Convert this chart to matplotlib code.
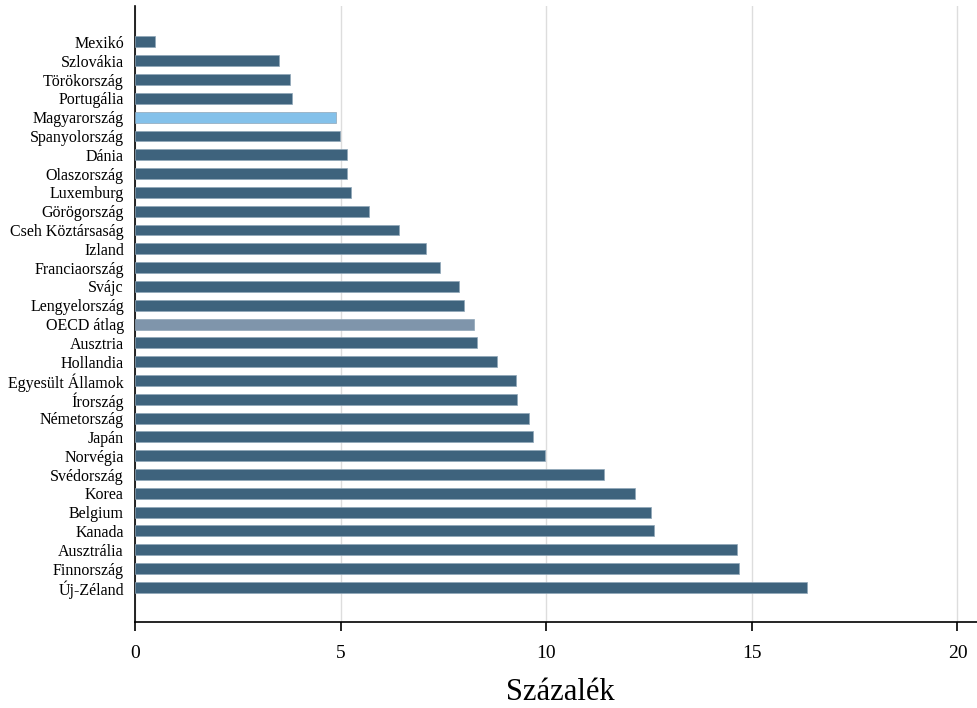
import matplotlib.pyplot as plt

plt.rcParams['font.family'] = ['Liberation Serif', 'DejaVu Serif']

countries = ['Mexikó', 'Szlovákia', 'Törökország', 'Portugália', 'Magyarország',
             'Spanyolország', 'Dánia', 'Olaszország', 'Luxemburg', 'Görögország',
             'Cseh Köztársaság', 'Izland', 'Franciaország', 'Svájc', 'Lengyelország',
             'OECD átlag', 'Ausztria', 'Hollandia', 'Egyesült Államok', 'Írország',
             'Németország', 'Japán', 'Norvégia', 'Svédország', 'Korea',
             'Belgium', 'Kanada', 'Ausztrália', 'Finnország', 'Új-Zéland']
values = [0.48, 3.51, 3.78, 3.81, 4.89,
          4.99, 5.16, 5.16, 5.25, 5.70,
          6.41, 7.08, 7.42, 7.88, 8.00,
          8.24, 8.31, 8.81, 9.26, 9.29,
          9.59, 9.67, 9.98, 11.41, 12.16,
          12.55, 12.62, 14.64, 14.69, 16.34]
xticks = [0, 5, 10, 15, 20]

base_color = '#3e637d'
colors = []
for c in countries:
    if c == 'Magyarország':
        colors.append('#84c1ea')
    elif c == 'OECD átlag':
        colors.append('#7f95ab')
    else:
        colors.append(base_color)

fig = plt.figure(figsize=(9.78, 7.08), dpi=100)
ax = fig.add_axes([0.138, 0.121, 0.862, 0.8705])

n = len(countries)
ypos = [n - 1 - i for i in range(n)]
ax.barh(ypos, values, height=0.58, color=colors, edgecolor='#8fa6b8',
        linewidth=0.5, zorder=3)

ax.set_yticks(ypos)
ax.set_yticklabels(countries, fontsize=11.5)
ax.tick_params(axis='y', length=0, pad=8)
ax.set_ylim(-1.86, n - 1 + 1.91)

ax.set_xlim(0, 20.5)
ax.set_xticks(xticks)
ax.set_xticklabels([str(t) for t in xticks], fontsize=14)
ax.tick_params(axis='x', direction='out', length=6.5, width=1.2, pad=10)
ax.set_xlabel('Százalék', fontsize=22, labelpad=6)
ax.xaxis.set_label_coords(0.505, -0.09)

ax.grid(axis='x', color='#dddddd', linewidth=1.0, zorder=0)
for s in ['top', 'right']:
    ax.spines[s].set_visible(False)
ax.spines['left'].set_linewidth(1.2)
ax.spines['bottom'].set_linewidth(1.2)

fig.savefig('out.png', dpi=100)
